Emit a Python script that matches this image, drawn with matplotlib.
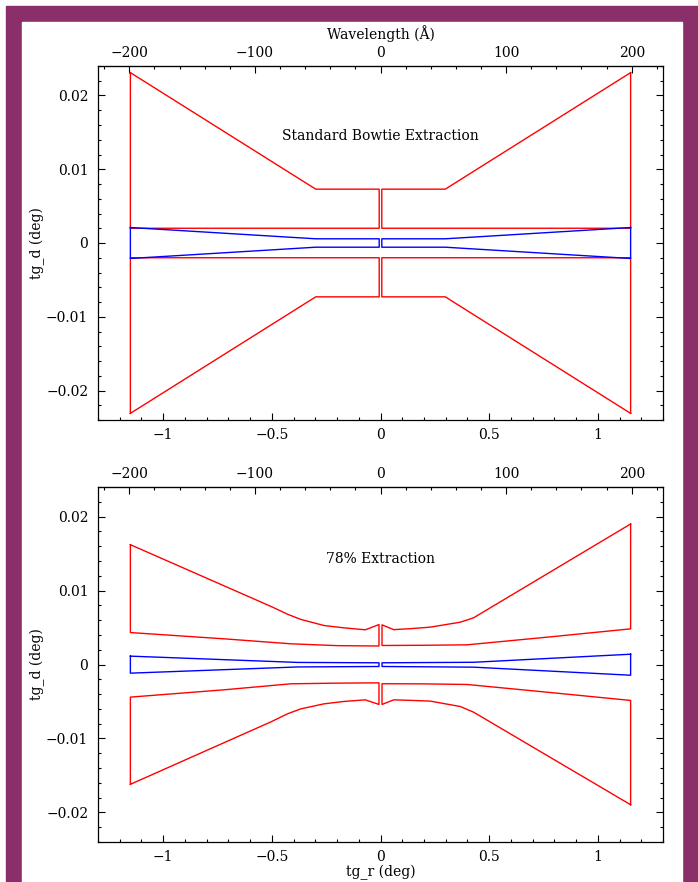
import numpy as np
import matplotlib
matplotlib.use("Agg")
import matplotlib.pyplot as plt
import matplotlib.ticker as mticker
from matplotlib.patches import Rectangle

# ── Colours / fonts ──────────────────────────────────────────────────────────
PURPLE = "#8a2f69"
RED = "#ff0000"
BLUE = "#0000ff"
plt.rcParams["font.family"] = ["DejaVu Serif"]
plt.rcParams["font.size"] = 10

LETG_PERIOD = 9912.16   # Å, grating period -> wavelength scale on top axis
WAVE_TICKS = [-200, -100, 0, 100, 200]

# ── Data: standard bowtie (edge -> centre, then back) ────────────────────────
std_red_x_left  = [-1.151, -0.298, -0.006, -0.006, -1.151, -1.151]
std_red_x_right = [1.151, 0.298, 0.006, 0.006, 1.151, 1.151]
std_red_y_up    = [0.0231, 0.0073, 0.0073, 0.0020, 0.0020, 0.0231]
std_red_y_dn    = [-0.0231, -0.0073, -0.0073, -0.0020, -0.0020, -0.0231]

std_blue_x_left  = [-1.151, -0.298, -0.006, -0.006, -0.298, -1.151, -1.151]
std_blue_x_right = [1.151, 0.298, 0.006, 0.006, 0.298, 1.151, 1.151]
std_blue_y       = [0.0021, 0.00057, 0.00057, -0.00057, -0.00057, -0.0021, 0.0021]

# ── Data: 78% extraction ─────────────────────────────────────────────────────
# outer background edge, edge -> centre
p78_outer_x_left  = [-1.151, -0.5, -0.428, -0.367, -0.26, -0.17, -0.07, -0.007]
p78_outer_up_left = [0.0162, 0.0078, 0.0068, 0.0061, 0.00527, 0.00496, 0.00469, 0.0054]
p78_outer_dn_left = [-0.0162, -0.0077, -0.00667, -0.0060, -0.00532, -0.0050, -0.00478, -0.0054]
# inner background edge, centre -> edge
p78_inner_x_left  = [-0.007, -0.2, -0.413, -0.719, -1.151]
p78_inner_up_left = [0.0025, 0.00255, 0.0028, 0.00347, 0.00432]
p78_inner_dn_left = [-0.00248, -0.00252, -0.00261, -0.00342, -0.00441]

p78_outer_x_right  = [1.151, 0.428, 0.367, 0.229, 0.15, 0.061, 0.007]
p78_outer_up_right = [0.0190, 0.00631, 0.00572, 0.00505, 0.00487, 0.00471, 0.00536]
p78_outer_dn_right = [-0.01896, -0.00644, -0.00568, -0.00495, -0.00486, -0.00478, -0.0054]
p78_inner_x_right  = [0.007, 0.2, 0.398, 0.765, 1.151]
p78_inner_up_right = [0.00257, 0.0026, 0.00266, 0.00369, 0.00482]
p78_inner_dn_right = [-0.0026, -0.00262, -0.0027, -0.00374, -0.00486]

# source region (blue), edge -> centre
p78_blue_x_left   = [-1.151, -0.38, -0.007]
p78_blue_up_left  = [0.00113, 0.00028, 0.00023]
p78_blue_dn_left  = [-0.00117, -0.00033, -0.00027]
p78_blue_x_right  = [1.151, 0.428, 0.007]
p78_blue_up_right = [0.00139, 0.0003, 0.00023]
p78_blue_dn_right = [-0.00145, -0.00036, -0.00027]


def closed(xa, ya, xb, yb):
    """join edge->centre run with centre->edge run and close it"""
    x = list(xa) + list(xb) + [xa[0]]
    y = list(ya) + list(yb) + [ya[0]]
    return x, y


def fmt(v, _):
    s = f"{v:g}"
    if s in ("-0", "0"):
        return "0"
    return s.replace("-", "\u2212")


def style_axes(ax, show_wave_label):
    ax.set_xlim(-1.3, 1.3)
    ax.set_ylim(-0.024, 0.024)
    ax.xaxis.set_major_locator(mticker.MultipleLocator(0.5))
    ax.xaxis.set_minor_locator(mticker.MultipleLocator(0.1))
    ax.yaxis.set_major_locator(mticker.MultipleLocator(0.01))
    ax.yaxis.set_minor_locator(mticker.MultipleLocator(0.002))
    ax.xaxis.set_major_formatter(mticker.FuncFormatter(fmt))
    ax.yaxis.set_major_formatter(mticker.FuncFormatter(fmt))
    ax.tick_params(which="both", direction="in", right=True, top=False,
                   width=0.8, pad=7)
    ax.tick_params(axis="x", which="both", pad=6)
    ax.tick_params(which="major", length=5)
    ax.tick_params(which="minor", length=2.5)
    for sp in ax.spines.values():
        sp.set_linewidth(0.9)
    ax.set_ylabel("tg_d (deg)")
    ax.yaxis.set_label_coords(-0.094, 0.5)

    sec = ax.secondary_xaxis(
        "top",
        functions=(lambda x: LETG_PERIOD * np.sin(np.radians(x)),
                   lambda w: np.degrees(np.arcsin(np.clip(w / LETG_PERIOD, -1, 1)))))
    sec.xaxis.set_major_locator(mticker.FixedLocator(WAVE_TICKS))
    sec.xaxis.set_minor_locator(mticker.FixedLocator(np.arange(-220, 221, 20)))
    sec.xaxis.set_major_formatter(mticker.FuncFormatter(fmt))
    sec.tick_params(which="both", direction="in", width=0.8, pad=4)
    sec.tick_params(which="major", length=5)
    sec.tick_params(which="minor", length=2.5)
    if show_wave_label:
        sec.set_xlabel("Wavelength (\u00c5)", labelpad=5.5)
    return sec


fig = plt.figure(figsize=(6.98, 8.82), dpi=100)
fig.patches.append(Rectangle((6 / 698, 0), 692 / 698, 876 / 882,
                             transform=fig.transFigure, color=PURPLE, zorder=-10))
fig.patches.append(Rectangle((22 / 698, 0), 660 / 698, 860 / 882,
                             transform=fig.transFigure, color="white", zorder=-9))

ax1 = fig.add_axes([98 / 698, 1 - 420 / 882, 565 / 698, 354 / 882])
ax2 = fig.add_axes([98 / 698, 1 - 842 / 882, 565 / 698, 355 / 882])
for ax in (ax1, ax2):
    ax.patch.set_alpha(0)

lw = 1.0
# ── Panel 1: standard bowtie ────────────────────────────────────────────────
for xs in (std_red_x_left, std_red_x_right):
    ax1.plot(xs, std_red_y_up, color=RED, lw=lw)
    ax1.plot(xs, std_red_y_dn, color=RED, lw=lw)
for xs in (std_blue_x_left, std_blue_x_right):
    ax1.plot(xs, std_blue_y, color=BLUE, lw=lw)
ax1.text(0, 0.0145, "Standard Bowtie Extraction", ha="center", va="center")
style_axes(ax1, True)

# ── Panel 2: 78% extraction ─────────────────────────────────────────────────
ax2.plot(*closed(p78_outer_x_left, p78_outer_up_left, p78_inner_x_left, p78_inner_up_left), color=RED, lw=lw)
ax2.plot(*closed(p78_outer_x_left, p78_outer_dn_left, p78_inner_x_left, p78_inner_dn_left), color=RED, lw=lw)
ax2.plot(*closed(p78_outer_x_right, p78_outer_up_right, p78_inner_x_right, p78_inner_up_right), color=RED, lw=lw)
ax2.plot(*closed(p78_outer_x_right, p78_outer_dn_right, p78_inner_x_right, p78_inner_dn_right), color=RED, lw=lw)
ax2.plot(*closed(p78_blue_x_left, p78_blue_up_left, p78_blue_x_left[::-1], p78_blue_dn_left[::-1]), color=BLUE, lw=lw)
ax2.plot(*closed(p78_blue_x_right, p78_blue_up_right, p78_blue_x_right[::-1], p78_blue_dn_right[::-1]), color=BLUE, lw=lw)
ax2.text(0, 0.0143, "78% Extraction", ha="center", va="center")
style_axes(ax2, False)
ax2.set_xlabel("tg_r (deg)", labelpad=0)

fig.savefig("out.png", dpi=100)
